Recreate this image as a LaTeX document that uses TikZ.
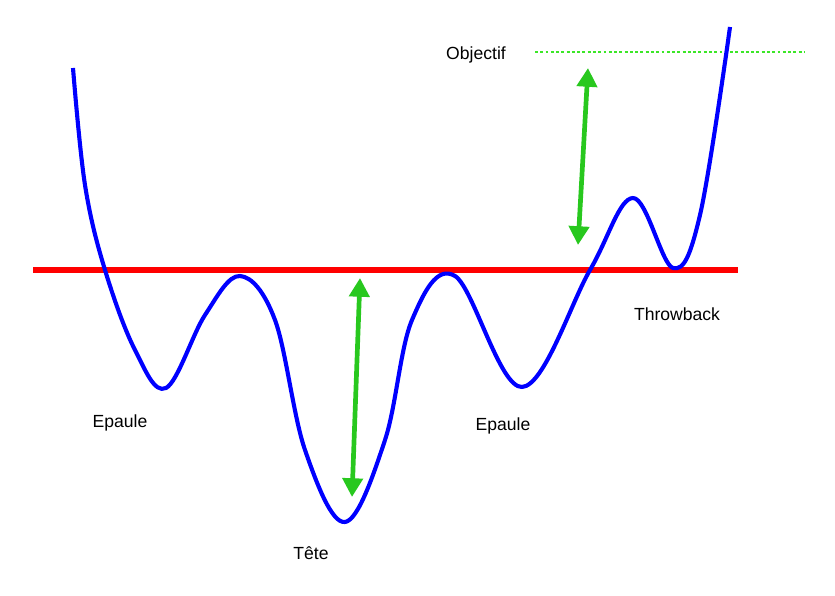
\documentclass[tikz,border=0pt]{standalone}
\usepackage{fontspec}
\setmainfont{Liberation Sans}
\usetikzlibrary{arrows.meta}
\definecolor{garr}{RGB}{40,200,30}
\definecolor{gdot}{RGB}{60,230,40}
\begin{document}
\begin{tikzpicture}[x=0.03cm,y=-0.03cm,
  lbl/.style={font=\fontsize{15}{17}\selectfont, inner sep=0pt},
  garrow/.style={draw=garr, line width=4pt, {Triangle[length=16pt,width=17pt]}-{Triangle[length=16pt,width=17pt]}}]
\useasboundingbox (0,0) rectangle (835,596);
\draw[line width=5.5pt, red] (33,270) -- (738,270);
\draw[line width=2.5pt, gdot, dotted] (535,52) -- (805,52);
\draw[line width=3.5pt, blue, line join=round] plot[smooth, tension=0.6] coordinates {(73,68) (85,185) (105,270) (135,350) (166,388) (205,315) (240,276) (275,320) (305,450) (345,522) (385,440) (412,320) (455,276) (522,387) (590,270) (633,198) (673,268) (700,215) (730,27)};
\coordinate (a1) at (360,278); \coordinate (b1) at (352,497);
\coordinate (a2) at (588,68); \coordinate (b2) at (578,245);
\draw[garrow] (a1) -- (b1);
\draw[garrow] (a2) -- (b2);
\node[lbl] (obj) at (476,55) {Objectif};
\node[lbl] (e1) at (120,423) {Epaule};
\node[lbl] (t) at (311,553) {Tête};
\node[lbl] (e2) at (503,426) {Epaule};
\node[lbl] (tb) at (677,314) {Throwback};
\end{tikzpicture}
\end{document}
